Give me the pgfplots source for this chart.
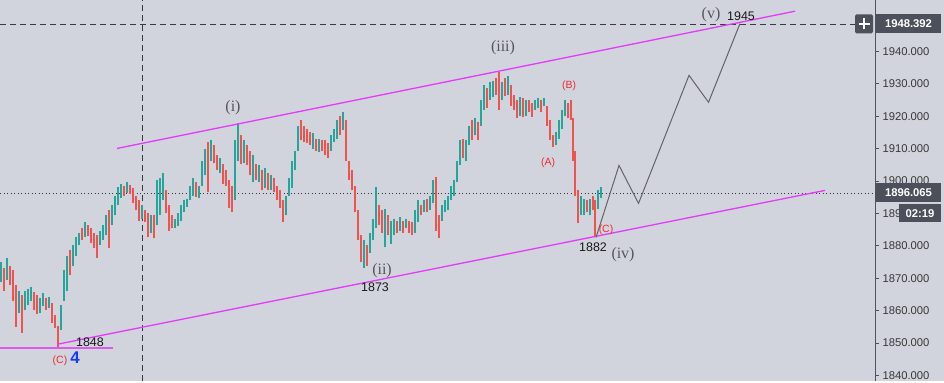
\documentclass[border=0pt]{standalone}
\usepackage{fontspec}
\setmainfont{Liberation Sans}
\newfontfamily\wavefont{Liberation Serif}
\usepackage{pgfplots}
\pgfplotsset{compat=1.18}
\usepackage{pgfplotstable}
\definecolor{bgc}{RGB}{209,212,220}
\definecolor{upc}{RGB}{38,166,154}
\definecolor{dnc}{RGB}{239,83,80}
\definecolor{chan}{RGB}{228,58,250}
\definecolor{chanl}{RGB}{222,90,236}
\definecolor{boxc}{RGB}{76,80,91}
\definecolor{axc}{RGB}{80,83,94}
\definecolor{dashc}{RGB}{54,58,69}
\definecolor{wavec}{RGB}{85,85,90}
\definecolor{abc}{RGB}{240,40,50}
\definecolor{projc}{RGB}{100,100,104}
\definecolor{bluec}{RGB}{20,60,255}

\pgfplotstableread{
x lo hi
1 1868.7 1874.9
7 1869.3 1876.1
19 1859.4 1866.2
25 1860.1 1866.2
28 1861.6 1866.8
31 1863.1 1867.2
40 1859.4 1863.8
43 1861.3 1865.3
49 1860.7 1864.1
61 1853.9 1861.6
64 1863.1 1872.4
67 1866.2 1877.0
73 1873.9 1880.1
76 1877.0 1882.6
79 1880.1 1884.1
85 1882.6 1887.2
100 1880.1 1884.7
103 1881.7 1886.3
106 1883.2 1889.4
112 1886.3 1892.5
115 1889.4 1895.5
118 1892.5 1898.3
121 1894.9 1899.2
127 1896.2 1899.6
142 1888.4 1892.5
151 1884.1 1889.4
157 1886.3 1900.2
160 1889.4 1900.8
163 1894.0 1902.6
175 1885.4 1888.4
178 1886.0 1890.0
181 1887.8 1892.5
184 1890.3 1894.0
187 1892.1 1894.6
190 1894.0 1898.6
193 1895.5 1900.8
199 1894.9 1898.6
202 1898.6 1906.3
205 1901.7 1910.0
211 1906.3 1912.5
220 1902.6 1907.0
235 1894.0 1912.5
238 1906.3 1917.8
244 1905.7 1912.5
253 1899.6 1907.9
259 1899.6 1904.8
265 1897.7 1903.9
271 1897.1 1901.7
286 1889.4 1895.5
289 1895.5 1900.8
292 1897.7 1906.3
295 1903.3 1909.4
298 1909.4 1917.1
313 1910.0 1914.7
319 1908.8 1913.1
331 1909.4 1914.1
334 1911.9 1916.2
337 1913.1 1918.7
343 1915.6 1921.2
364 1873.3 1881.7
370 1877.9 1884.1
373 1881.7 1888.4
376 1885.4 1898.0
385 1879.5 1891.5
391 1880.7 1887.8
394 1883.2 1888.4
400 1884.7 1888.8
406 1885.4 1888.4
415 1884.1 1890.9
418 1887.2 1894.0
424 1890.3 1894.0
430 1890.9 1895.5
433 1893.1 1900.2
442 1887.8 1892.5
445 1890.3 1894.0
448 1890.9 1895.5
451 1894.0 1898.6
454 1895.5 1900.2
457 1899.6 1906.3
460 1904.8 1912.5
466 1906.3 1912.5
469 1911.0 1917.1
475 1914.1 1919.3
481 1917.1 1924.9
484 1921.8 1929.5
490 1924.9 1930.4
493 1925.8 1931.0
502 1924.9 1930.4
508 1926.4 1932.3
520 1920.2 1925.8
526 1920.2 1924.9
535 1921.8 1924.9
538 1922.4 1925.5
544 1923.0 1925.5
556 1911.0 1915.0
559 1913.1 1918.7
562 1916.2 1921.8
565 1920.2 1924.9
581 1889.4 1895.5
584 1889.4 1894.6
590 1889.4 1894.6
598 1891.5 1897.1
601 1894.9 1898.0
}\upbars

\pgfplotstableread{
x lo hi
4 1866.2 1873.0
10 1867.8 1873.9
13 1863.1 1872.4
16 1854.8 1867.8
22 1853.0 1864.7
34 1860.1 1865.6
37 1859.1 1864.7
46 1860.1 1863.8
52 1856.3 1862.2
55 1854.5 1858.5
58 1848.2 1855.4
70 1870.9 1878.6
82 1881.7 1885.4
88 1882.9 1886.3
91 1881.0 1885.4
94 1879.2 1884.1
97 1876.1 1883.2
109 1879.2 1890.9
124 1895.5 1898.6
130 1895.9 1898.9
133 1893.1 1897.7
136 1890.9 1895.5
139 1887.8 1894.0
145 1887.2 1890.9
148 1882.6 1890.0
154 1882.3 1889.4
166 1890.0 1897.1
169 1884.7 1892.5
172 1885.4 1889.4
196 1895.2 1899.6
208 1896.5 1911.9
214 1905.7 1911.0
217 1903.3 1907.9
223 1899.2 1905.4
226 1898.6 1903.3
229 1891.8 1900.2
232 1890.3 1898.6
241 1905.4 1914.1
247 1904.8 1911.0
250 1901.7 1909.4
256 1900.2 1905.4
262 1897.1 1903.3
268 1897.1 1902.6
274 1896.5 1900.8
277 1894.0 1898.6
280 1891.8 1897.1
283 1887.2 1894.0
301 1912.5 1918.7
304 1911.9 1917.1
307 1911.6 1916.2
310 1911.0 1915.0
316 1909.4 1913.1
322 1909.4 1912.5
325 1907.9 1912.5
328 1907.0 1911.6
340 1914.1 1920.2
346 1906.3 1918.7
349 1900.2 1906.3
352 1897.1 1903.3
355 1890.3 1898.6
358 1881.7 1890.9
361 1874.9 1883.2
367 1873.9 1880.1
379 1886.3 1892.5
382 1884.1 1890.9
388 1883.2 1889.4
397 1884.1 1887.8
403 1884.1 1887.8
409 1884.1 1887.8
412 1883.2 1887.2
421 1889.4 1892.5
427 1890.3 1894.6
436 1884.7 1901.1
439 1882.3 1889.4
463 1907.0 1913.1
472 1912.5 1918.7
478 1912.5 1918.1
487 1922.4 1928.6
496 1926.4 1931.7
499 1921.8 1933.5
505 1926.1 1931.7
511 1923.3 1929.5
514 1921.8 1926.4
517 1919.3 1924.9
523 1919.6 1925.5
529 1921.2 1924.9
532 1919.9 1924.2
541 1921.2 1924.9
547 1917.1 1923.3
550 1912.5 1918.7
553 1910.4 1914.1
568 1919.3 1924.2
571 1918.7 1924.9
573 1906.3 1919.3
575 1895.5 1909.4
578 1886.9 1897.1
587 1890.3 1894.0
593 1890.9 1895.5
595 1882.6 1894.0
}\dnbars

\begin{document}
\begin{tikzpicture}[x=1bp,y=1bp]
\fill[bgc] (0,0) rectangle (944,381);
\begin{axis}[
  at={(0,0)}, anchor=south west,
  scale only axis, width=875bp, height=381bp,
  xmin=0, xmax=875, ymin=1838.14, ymax=1955.72,
  axis y line=right, axis x line=none,
  axis line style={-, draw=axc, line width=0.9bp},
  xtick=\empty,
  ytick={1840,1850,1860,1870,1880,1890,1900,1910,1920,1930,1940},
  tick align=outside, major tick length=4bp,
  tick style={draw=axc, line width=0.7bp},
  yticklabel style={font=\fontsize{11.3}{13}\selectfont, text=black!78,
    /pgf/number format/fixed, /pgf/number format/fixed zerofill,
    /pgf/number format/precision=3, /pgf/number format/1000 sep={},
    /pgf/number format/assume math mode=true},
]
% dashed crosshair and dotted last-price line
\addplot[dashc, line width=1bp, dash pattern=on 6bp off 4bp] coordinates {(0,1948.392) (855,1948.392)};
\addplot[dashc, line width=1bp, dash pattern=on 6bp off 4bp] coordinates {(142,1838.14) (142,1955.72)};
\addplot[dashc, line width=1bp, dash pattern=on 1.3bp off 2.2bp] coordinates {(0,1896.065) (875,1896.065)};
% candles (low-high range of each bar)
\addplot[upc, draw opacity=0, mark=none, forget plot,
  error bars/.cd, y dir=plus, y explicit, error mark=none,
  error bar style={draw=upc, draw opacity=1, solid, line width=2.2bp, line cap=butt}]
  table[x=x, y=lo, y error expr=\thisrow{hi}-\thisrow{lo}] {\upbars};
\addplot[dnc, draw opacity=0, mark=none, forget plot,
  error bars/.cd, y dir=plus, y explicit, error mark=none,
  error bar style={draw=dnc, draw opacity=1, solid, line width=2.2bp, line cap=butt}]
  table[x=x, y=lo, y error expr=\thisrow{hi}-\thisrow{lo}] {\dnbars};
% channel
\addplot[chan, solid, line width=1.3bp] coordinates {(117,1910.05) (795,1952.4)};
\addplot[chan, solid, line width=1.3bp] coordinates {(57,1849.6) (825,1897.1)};
\addplot[chanl, solid, line width=1.8bp] coordinates {(0,1848.5) (113,1848.5)};
% projection
\addplot[projc, solid, line width=1bp] coordinates {(596,1882.6) (619,1904.8) (638.5,1893.1) (689,1932.6) (708.5,1924.3) (740,1948.6)};
% labels
\node[text=wavec, font=\wavefont\fontsize{16}{16}\selectfont] at (axis cs:711,1951.4) {(v)};
\node[text=black!90, font=\fontsize{12.5}{13}\selectfont] at (axis cs:741,1950.8) {1945};
\node[text=wavec, font=\wavefont\fontsize{16}{16}\selectfont] at (axis cs:503,1941.2) {(iii)};
\node[text=wavec, font=\wavefont\fontsize{16}{16}\selectfont] at (axis cs:233,1922.7) {(i)};
\node[text=wavec, font=\wavefont\fontsize{16}{16}\selectfont] at (axis cs:382,1872.4) {(ii)};
\node[text=black!90, font=\fontsize{12.5}{13}\selectfont] at (axis cs:375,1867.2) {1873};
\node[text=wavec, font=\wavefont\fontsize{16}{16}\selectfont] at (axis cs:623,1877.3) {(iv)};
\node[text=black!90, font=\fontsize{12.5}{13}\selectfont] at (axis cs:593,1879.5) {1882};
\node[text=abc, font=\fontsize{10.5}{11}\selectfont] at (axis cs:548,1905.7) {(A)};
\node[text=abc, font=\fontsize{10.5}{11}\selectfont] at (axis cs:569,1929.5) {(B)};
\node[text=abc, font=\fontsize{10.5}{11}\selectfont] at (axis cs:606,1885.0) {(C)};
\node[text=abc, font=\fontsize{10.5}{11}\selectfont] at (axis cs:60,1844.6) {(C)};
\node[text=bluec, font=\bfseries\fontsize{17}{17}\selectfont] at (axis cs:75,1845.5) {4};
\node[text=black!90, font=\fontsize{12.5}{13}\selectfont] at (axis cs:90,1850.2) {1848};
\end{axis}
% right price-scale boxes
\fill[boxc, rounded corners=1.5bp] (855,348) rectangle (873,367);
\draw[white, line width=1.2bp] (858.5,357.5) -- (869.5,357.5) (864,352) -- (864,363);
\fill[boxc] (876,348) rectangle (941,367);
\node[text=white, font=\bfseries\fontsize{11.3}{13}\selectfont] at (908.5,357.5) {1948.392};
\fill[boxc] (876,179) rectangle (941,198);
\node[text=white, font=\bfseries\fontsize{11.3}{13}\selectfont] at (908.5,188.5) {1896.065};
\fill[boxc] (899,159) rectangle (941,177);
\node[text=white, font=\bfseries\fontsize{11.3}{13}\selectfont] at (920,168) {02:19};
\end{tikzpicture}
\end{document}
